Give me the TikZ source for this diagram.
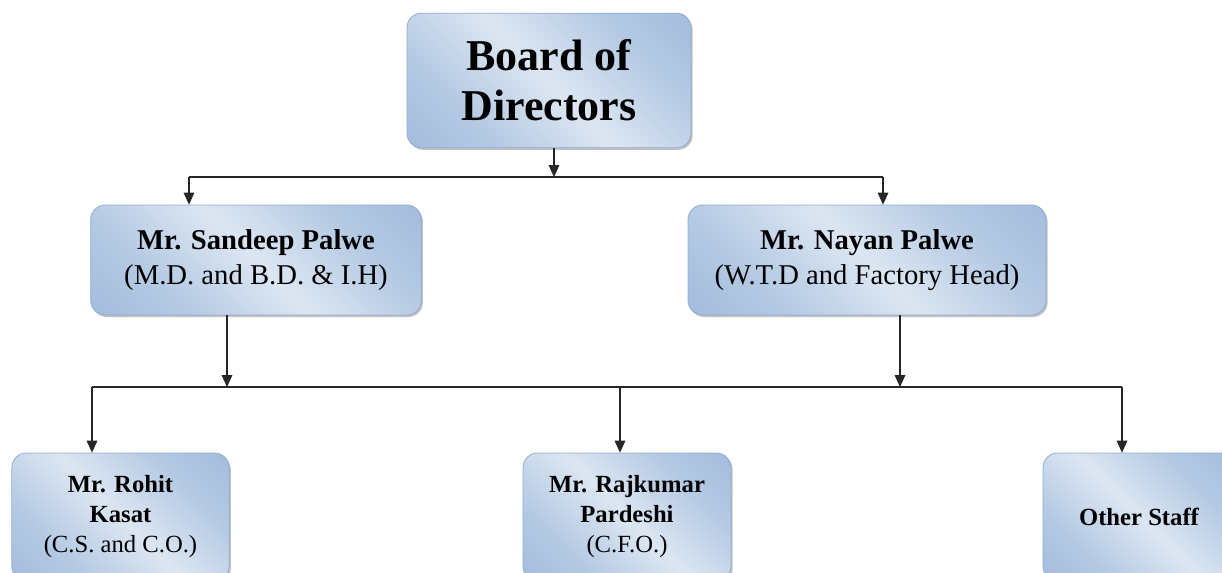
\documentclass[tikz,border=0pt]{standalone}
\usepackage{fontspec}
\setmainfont{Liberation Serif}
\usetikzlibrary{arrows.meta,shadows}
\definecolor{boxdark}{HTML}{93B1D6}
\definecolor{boxlight}{HTML}{DCE6F2}
\definecolor{boxedge}{HTML}{8FADD3}
\pgfdeclarehorizontalshading{boxshade}{100bp}{color(0bp)=(boxdark); color(30bp)=(boxdark!55!boxlight); color(50bp)=(boxlight); color(70bp)=(boxdark!55!boxlight); color(100bp)=(boxdark)}
\tikzset{
  post/.style={rectangle, rounded corners=11pt, draw=boxedge, line width=0.6pt,
    shading=boxshade, shading angle=45, align=center, inner sep=0pt,
    drop shadow={shadow xshift=1.2pt, shadow yshift=-1.5pt, opacity=0.35, fill=black!70}},
  toppost/.style={post, minimum width=213pt, minimum height=101pt,
    font=\fontsize{33}{37.5}\selectfont\bfseries},
  headpost/.style={post, minimum width=248pt, minimum height=82.5pt,
    font=\fontsize{21.5}{26}\selectfont},
  staffpost/.style={post, minimum height=96pt,
    font=\fontsize{18.5}{22.5}\selectfont},
  link/.style={line width=0.9pt, draw=black!85},
  linkarrow/.style={link, -{Triangle[length=9pt,width=8pt]}}
}
\begin{document}
\begin{tikzpicture}[x=0.75pt, y=-0.75pt]
  \path[use as bounding box, fill=white] (0,0) rectangle (1222,572);
  \clip (0,0) rectangle (1222,572);

  \node[toppost] (board) at (549,80.5) {Board of\\Directors};
  \node[headpost] (sandeep) at (256,260) {{\bfseries Mr. Sandeep Palwe}\\(M.D. and B.D. \& I.H)};
  \node[headpost, minimum width=268.5pt] (nayan) at (867,260) {{\bfseries Mr. Nayan Palwe}\\(W.T.D and Factory Head)};
  \node[staffpost, minimum width=163pt] (rohit) at (120.5,517) {{\bfseries Mr. Rohit}\\{\bfseries Kasat}\\(C.S. and C.O.)};
  \node[staffpost, minimum width=156pt] (rajkumar) at (627,517) {{\bfseries Mr. Rajkumar}\\{\bfseries Pardeshi}\\(C.F.O.)};
  \node[staffpost, minimum width=144pt] (other) at (1139,517) {\bfseries Other Staff};

  \coordinate (topjoin) at (554,177);
  \coordinate (topleft) at (189,177);
  \coordinate (topright) at (883,177);
  \coordinate (lowjoinl) at (227,387);
  \coordinate (lowjoinr) at (900,387);
  \coordinate (lowleft) at (92,387);
  \coordinate (lowmid) at (620,387);
  \coordinate (lowright) at (1122,387);

  \draw[link] (topleft) -- (topright);
  \draw[link] (lowleft) -- (lowright);
  \draw[linkarrow] (topjoin |- board.south) -- (topjoin);
  \draw[linkarrow] (topleft) -- (topleft |- sandeep.north);
  \draw[linkarrow] (topright) -- (topright |- nayan.north);
  \draw[linkarrow] (lowjoinl |- sandeep.south) -- (lowjoinl);
  \draw[linkarrow] (lowjoinr |- nayan.south) -- (lowjoinr);
  \draw[linkarrow] (lowleft) -- (lowleft |- rohit.north);
  \draw[linkarrow] (lowmid) -- (lowmid |- rajkumar.north);
  \draw[linkarrow] (lowright) -- (lowright |- other.north);
\end{tikzpicture}
\end{document}
